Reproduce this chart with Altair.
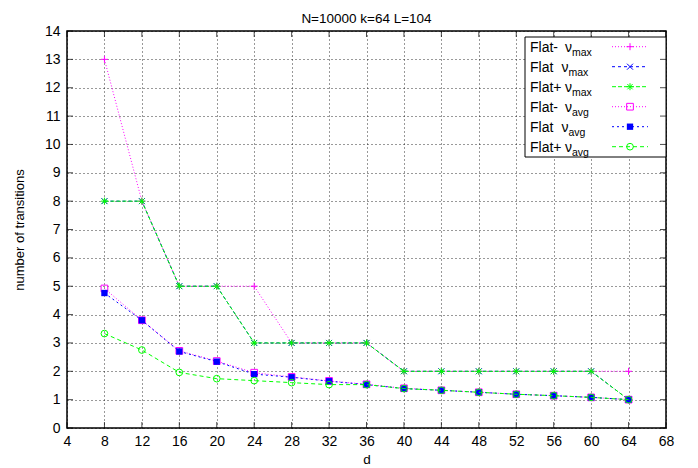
import altair as alt
import pandas as pd

d_values = [8, 12, 16, 20, 24, 28, 32, 36, 40, 44, 48, 52, 56, 60, 64]
flat_minus_max = [13, 8, 5, 5, 5, 3, 3, 3, 2, 2, 2, 2, 2, 2, 2]
flat_max = [8, 8, 5, 5, 3, 3, 3, 3, 2, 2, 2, 2, 2, 2, 1]
flat_plus_max = [8, 8, 5, 5, 3, 3, 3, 3, 2, 2, 2, 2, 2, 2, 1]
flat_minus_avg = [4.92, 3.8, 2.72, 2.36, 1.95, 1.8, 1.66, 1.54, 1.4, 1.33, 1.26, 1.19, 1.14, 1.08, 1.0]
flat_avg = [4.76, 3.8, 2.7, 2.34, 1.9, 1.79, 1.65, 1.53, 1.39, 1.33, 1.26, 1.19, 1.14, 1.08, 1.0]
flat_plus_avg = [3.33, 2.75, 1.96, 1.74, 1.67, 1.6, 1.53, 1.53, 1.39, 1.33, 1.26, 1.19, 1.14, 1.08, 1.0]

x_ticks = list(range(4, 69, 4))
y_ticks = list(range(0, 15))

series_prefix = ["Flat-", "Flat", "Flat+", "Flat-", "Flat", "Flat+"]
series_sub = ["max", "max", "max", "avg", "avg", "avg"]
series_values = [flat_minus_max, flat_max, flat_plus_max, flat_minus_avg, flat_avg, flat_plus_avg]

PLUS = "M-1,0L1,0M0,-1L0,1"
CROSS = "M-1,-1L1,1M-1,1L1,-1"
STAR = "M-1,0L1,0M0,-1L0,1M-0.75,-0.75L0.75,0.75M-0.75,0.75L0.75,-0.75"

styles = [
    dict(color="#ff00ff", dash=[1, 2], shape=PLUS, filled=False, size=49),
    dict(color="#0000ff", dash=[3, 3], shape=CROSS, filled=False, size=36),
    dict(color="#00ff00", dash=[4, 2], shape=STAR, filled=False, size=49),
    dict(color="#ff00ff", dash=[1, 2], shape="square", filled=False, size=45),
    dict(color="#0000ff", dash=[2, 3], shape="square", filled=True, size=40),
    dict(color="#00ff00", dash=[4, 3], shape="circle", filled=False, size=45),
]

FONT = "Liberation Sans"
W, H = 599, 397

xenc = alt.X("d:Q", title="d",
             scale=alt.Scale(domain=[4, 68], nice=False, zero=False),
             axis=alt.Axis(values=x_ticks, ticks=False, domain=False, grid=True,
                           labelFontSize=14, labelPadding=6, titlePadding=4,
                           titleFontSize=13.5, labelFlush=False))
yenc = alt.Y("v:Q", title="number of transitions",
             scale=alt.Scale(domain=[0, 14], nice=False),
             axis=alt.Axis(values=y_ticks, ticks=False, domain=False, grid=True,
                           labelFontSize=14, labelPadding=7, titlePadding=18,
                           titleFontSize=13))

layers = []
for vals, st in zip(series_values, styles):
    df = pd.DataFrame({"d": d_values, "v": vals})
    base = alt.Chart(df).encode(x=xenc, y=yenc)
    layers.append(base.mark_line(color=st["color"], strokeDash=st["dash"], strokeWidth=1))
    layers.append(base.mark_point(shape=st["shape"], filled=st["filled"], size=st["size"],
                                  color=st["color"], strokeWidth=1, opacity=1))

one = pd.DataFrame({"a": [0]})
# legend box
layers.append(alt.Chart(one).mark_rect(fill="white", stroke="black", strokeWidth=1).encode(
    x=alt.value(458), x2=alt.value(599), y=alt.value(6), y2=alt.value(126)))

for i, (pre, sub, st) in enumerate(zip(series_prefix, series_sub, styles)):
    yc = 15.7 + 20 * i
    nu_x = 494.5 if pre == "Flat" else 498
    layers.append(alt.Chart(one).mark_text(align="left", baseline="alphabetic", font=FONT,
                                           fontSize=14, color="black").encode(
        x=alt.value(463), y=alt.value(yc + 5), text=alt.value(pre)))
    layers.append(alt.Chart(one).mark_text(align="left", baseline="alphabetic", font=FONT,
                                           fontSize=14, color="black").encode(
        x=alt.value(nu_x), y=alt.value(yc + 5), text=alt.value("ν")))
    layers.append(alt.Chart(one).mark_text(align="left", baseline="alphabetic", font=FONT,
                                           fontSize=10.5, color="black").encode(
        x=alt.value(nu_x + 7), y=alt.value(yc + 9), text=alt.value(sub)))
    layers.append(alt.Chart(one).mark_rule(color=st["color"], strokeDash=st["dash"], strokeWidth=1).encode(
        x=alt.value(545), x2=alt.value(581), y=alt.value(yc)))
    layers.append(alt.Chart(one).mark_point(shape=st["shape"], filled=st["filled"], size=st["size"],
                                            color=st["color"], strokeWidth=1, opacity=1).encode(
        x=alt.value(563), y=alt.value(yc)))

# inward ticks on all four sides
xt = pd.DataFrame({"d": x_ticks})
yt = pd.DataFrame({"v": y_ticks})
layers.append(alt.Chart(xt).mark_tick(color="black", thickness=1, size=6).encode(x=xenc, y=alt.value(H - 3)))
layers.append(alt.Chart(xt).mark_tick(color="black", thickness=1, size=6).encode(x=xenc, y=alt.value(3)))
layers.append(alt.Chart(yt).mark_tick(color="black", thickness=1, size=6).encode(y=yenc, x=alt.value(3)))
layers.append(alt.Chart(yt).mark_tick(color="black", thickness=1, size=6).encode(y=yenc, x=alt.value(W - 3)))

chart = alt.layer(*layers).properties(
    width=W, height=H,
    background="white",
    title=alt.Title("N=10000 k=64 L=104", fontSize=13.5, font=FONT, fontWeight="normal",
                    color="black", offset=2, dy=3),
    autosize=alt.AutoSizeParams(type="none"),
    padding={"left": 59, "top": 23, "right": 24, "bottom": 40},
).configure_view(stroke="black", strokeWidth=1.5).configure_axis(
    labelFont=FONT, labelColor="black",
    titleFont=FONT, titleColor="black", titleFontWeight="normal",
    gridColor="black", gridDash=[1, 3], gridOpacity=0.8, gridWidth=1,
)

chart.save("out.html", embed_options={"renderer": "svg", "actions": False})
